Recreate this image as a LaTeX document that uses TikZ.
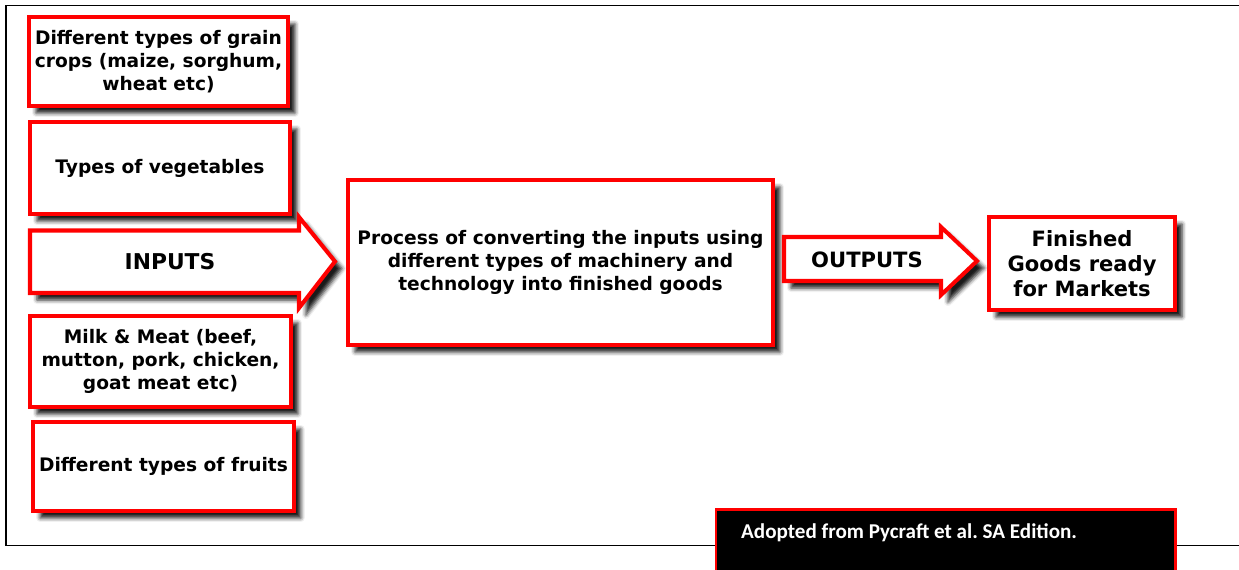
\documentclass[tikz,border=0pt]{standalone}
\usepackage{fontspec}
\setmainfont{DejaVu Sans}
\newfontfamily\creditfont{Carlito}
\usepackage{tikz}
\usetikzlibrary{positioning, shadows.blur}
\definecolor{boxred}{RGB}{255,0,0}

\begin{document}
\begin{tikzpicture}[
        x=0.02cm, y=-0.02cm,
        shade/.style={blur shadow={shadow xshift=0.14cm, shadow yshift=-0.14cm, shadow blur radius=0.08cm, shadow opacity=90}},
        inbox/.style={rectangle, draw=boxred, line width=2.3pt, fill=white, shade, align=center, font=\fontsize{10.6}{13}\selectfont\bfseries},
        bigarrow/.style={draw=boxred, line width=2.3pt, fill=white, shade},
        frame/.style={line width=1.1pt},
    ]
    \clip (0,0) rectangle (1239,570);

    % Rahmen
    \draw[frame] (1245,5.5) -- (6,5.5) -- (6,545.5) -- (1245,545.5);

    % Inputs (links)
    \node[inbox, minimum width=5.18cm, minimum height=1.78cm] (grain) at (158.5,61.5) {Different types of grain\\crops (maize, sorghum,\\wheat etc)};
    \node[inbox, minimum width=5.2cm, minimum height=1.84cm] (veg) at (160,168) {Types of vegetables};
    \node[inbox, minimum width=5.22cm, minimum height=1.82cm] (meat) at (160.5,361.5) {Milk \& Meat (beef,\\mutton, pork, chicken,\\goat meat etc)};
    \node[inbox, minimum width=5.18cm, minimum height=1.78cm] (fruit) at (163.5,466.5) {Different types of fruits};

    % Pfeil INPUTS
    \draw[bigarrow] (30,230.5) -- (299,230.5) -- (299,217) -- (335,261.5) -- (299,308) -- (299,293) -- (30,293) -- cycle;
    \node[font=\fontsize{12.4}{15}\selectfont\bfseries] (inputs) at (170,262) {INPUTS};

    % Prozess
    \node[inbox, minimum width=8.5cm, minimum height=3.3cm] (process) at (560.5,262.5) {Process of converting the inputs using\\different types of machinery and\\technology into finished goods};

    % Pfeil OUTPUTS
    \draw[bigarrow] (784,237) -- (941,237) -- (941,227) -- (977,261) -- (941,295) -- (941,281) -- (784,281) -- cycle;
    \node[font=\fontsize{12}{15}\selectfont\bfseries] (outputs) at (867,260) {OUTPUTS};

    % Fertige Waren
    \node[inbox, minimum width=3.72cm, minimum height=1.86cm, font=\fontsize{12}{14.2}\selectfont\bfseries] (goods) at (1082,263.5) {Finished\\Goods ready\\for Markets};

    % Quelle
    \node[rectangle, draw=boxred, line width=1.6pt, fill=black, anchor=north west, minimum width=9.2cm, minimum height=2cm] (credit) at (714.5,508) {};
    \node[anchor=west, text=white, font=\fontsize{12}{14}\selectfont\creditfont\bfseries] (creditText) at (735,533) {Adopted from Pycraft et al.\ SA Edition.};
\end{tikzpicture}
\end{document}
